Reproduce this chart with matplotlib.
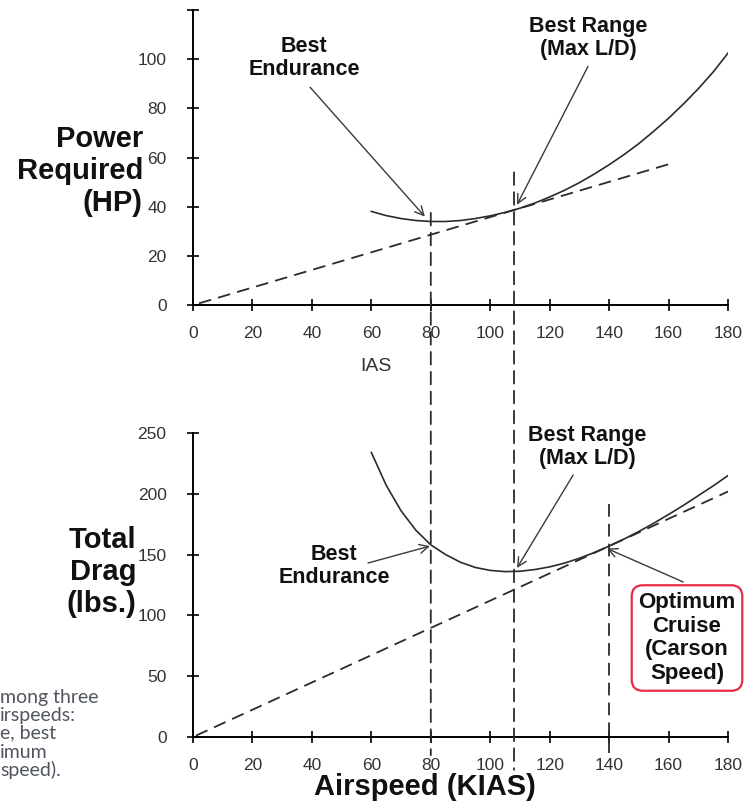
import matplotlib
matplotlib.use("Agg")
import matplotlib.pyplot as plt
from matplotlib.patches import ConnectionPatch

# power required curve (HP) vs airspeed, every 5 kt
speed_pwr = [60, 65, 70, 75, 80, 85, 90, 95, 100, 105, 110, 115, 120, 125, 130,
             135, 140, 145, 150, 155, 160, 165, 170, 175, 180]
power_req = [38.1, 36.4, 35.2, 34.4, 34.0, 34.0, 34.4, 35.2, 36.3, 37.7, 39.4,
             41.5, 44.0, 46.7, 49.8, 53.3, 57.1, 61.2, 65.7, 70.7, 76.0, 81.8,
             88.0, 94.8, 102.5]
pwr_line_x = [2, 162]
pwr_line_y = [0.7, 58]

# total drag curve (lbs) vs airspeed
speed_drag = [60, 65, 70, 75, 80, 85, 90, 95, 100, 105, 110, 115, 120, 125, 130,
              135, 140, 145, 150, 155, 160, 165, 170, 175, 180]
total_drag = [234, 207, 186, 170, 158, 150, 143.7, 139.4, 137, 136, 136.3, 137.7,
              139.9, 143, 147, 151.7, 157, 162.8, 169, 175.8, 183, 190.5, 198.5,
              206.5, 215]
drag_line_x = [1, 181]
drag_line_y = [1.1, 203]

x_ticks = [0, 20, 40, 60, 80, 100, 120, 140, 160, 180]
hp_ticks = [0, 20, 40, 60, 80, 100, 120]
hp_labels = ['0', '20', '40', '60', '80', '100', '']
drag_ticks = [0, 50, 100, 150, 200, 250]

v_endurance = 80
v_range = 108
v_carson = 140

plt.rcParams['font.family'] = ['Liberation Sans', 'DejaVu Sans']

ink = '#2b2b2b'
dash = (0, (7, 4))

fig = plt.figure(figsize=(7.56, 8.05), dpi=100)
ax1 = fig.add_axes([0.2553, 0.621, 0.7077, 0.3665])
ax2 = fig.add_axes([0.2553, 0.0845, 0.7077, 0.3776])

for ax in (ax1, ax2):
    ax.set_facecolor('none')
    ax.spines['top'].set_visible(False)
    ax.spines['right'].set_visible(False)
    ax.spines['left'].set_linewidth(1.4)
    ax.spines['bottom'].set_linewidth(1.4)
    ax.set_xlim(0, 180)
    ax.set_xticks(x_ticks)
    ax.tick_params(direction='inout', length=8, width=1.2,
                   labelsize=12.5, labelcolor='#333333')
    ax.tick_params(axis='x', pad=11)
    ax.tick_params(axis='y', pad=15)

ax1.set_ylim(0, 120)
ax1.set_yticks(hp_ticks)
ax1.set_yticklabels(hp_labels)
ax2.set_ylim(0, 250)
ax2.set_yticks(drag_ticks)

# curves
ax1.plot(speed_pwr, power_req, color=ink, lw=1.2)
ax1.plot(pwr_line_x, pwr_line_y, color=ink, lw=1.3, ls=dash)
ax2.plot(speed_drag, total_drag, color=ink, lw=1.2)
ax2.plot(drag_line_x, drag_line_y, color=ink, lw=1.3, ls=dash)

# vertical dashed markers running through both charts
for xv, y_top, y_bot in [(v_endurance, 37.5, -15), (v_range, 54, -27)]:
    con = ConnectionPatch(xyA=(xv, y_top), coordsA=ax1.transData,
                          xyB=(xv, y_bot), coordsB=ax2.transData,
                          color=ink, lw=1.3, linestyle=dash)
    fig.add_artist(con)
ax2.plot([v_carson, v_carson], [192, -13], color=ink, lw=1.3, ls=dash, clip_on=False)

arrow = dict(arrowstyle='->', lw=1.0, color='#3a3a3a', mutation_scale=16,
             shrinkA=0, shrinkB=0)
bold = dict(fontsize=15.5, fontweight='bold', ha='center', va='center',
            color='#111111', linespacing=1.15)

# top chart labels
ax1.text(37.3, 100.4, 'Best\nEndurance', **bold)
ax1.annotate('', xy=(78, 36), xytext=(39.4, 88.6), arrowprops=arrow)
ax1.text(132.9, 108.6, 'Best Range\n(Max L/D)', **bold)
ax1.annotate('', xy=(109, 40.8), xytext=(132.9, 97.1), arrowprops=arrow)

# bottom chart labels
ax2.text(47.4, 140.6, 'Best\nEndurance', **bold)
ax2.annotate('', xy=(79.7, 157), xytext=(58.9, 143.1), arrowprops=arrow)
ax2.text(132.6, 238.5, 'Best Range\n(Max L/D)', **bold)
ax2.annotate('', xy=(109, 139), xytext=(127.9, 215.5), arrowprops=arrow)
ax2.text(166.2, 81.4, 'Optimum\nCruise\n(Carson\nSpeed)', fontsize=16, fontweight='bold',
         ha='center', va='center', color='#111111', linespacing=1.17,
         bbox=dict(boxstyle='round,pad=0.3,rounding_size=0.5', fc='white',
                   ec='#e52d45', lw=1.6))
ax2.annotate('', xy=(139.3, 155), xytext=(164.9, 127.5), arrowprops=arrow)

# axis titles
big = dict(fontsize=21, fontweight='bold', color='#111111', linespacing=1.2)
fig.text(143 / 756, 1 - 171 / 805, 'Power\nRequired\n(HP)', ha='right', va='center',
         multialignment='right', **big)
fig.text(136 / 756, 1 - 572 / 805, 'Total\nDrag\n(lbs.)', ha='right', va='center',
         multialignment='right', **big)
fig.text(425 / 756, 1 - 787 / 805, 'Airspeed (KIAS)', ha='center', va='center', **big)
fig.text(376 / 756, 1 - 366 / 805, 'IAS', ha='center', va='center', fontsize=14,
         color='#333333')

# clipped caption on the left edge
caption = ['mong three', 'irspeeds:', 'e, best', 'imum', 'speed).']
caption_y = [697, 715, 733, 752, 770]
for line, py in zip(caption, caption_y):
    fig.text(0.0, 1 - py / 805, line, ha='left', va='center', fontsize=14,
             color='#505560', family=['Lato', 'DejaVu Sans'])

fig.savefig('out.png', dpi=100, facecolor='white')
